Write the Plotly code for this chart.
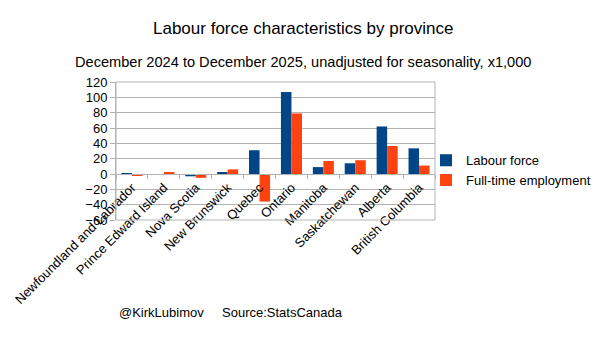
import plotly.graph_objects as go

provinces = ["Newfoundland and Labrador", "Prince Edward Island", "Nova Scotia",
             "New Brunswick", "Quebec", "Ontario", "Manitoba", "Saskatchewan",
             "Alberta", "British Columbia"]
labour_force = [0.5, -1, -3, 1.5, 31, 107, 9, 14, 62, 33.5]
full_time = [-1.5, 2, -5, 6, -36, 79, 17, 18, 36.5, 11]
y_ticks = [-60, -40, -20, 0, 20, 40, 60, 80, 100, 120]

FONT = "Liberation Sans, Arial, sans-serif"
GRID = "#b3b3b3"

fig = go.Figure()
fig.add_trace(go.Bar(x=provinces, y=labour_force, name="Labour force",
                     marker=dict(color="#004586", line=dict(width=0))))
fig.add_trace(go.Bar(x=provinces, y=full_time, name="Full-time employment",
                     marker=dict(color="#ff420e", line=dict(width=0))))

fig.update_layout(
    width=605, height=340,
    margin=dict(l=116, r=169.5, t=81.5, b=120, autoexpand=False),
    paper_bgcolor="white", plot_bgcolor="white",
    font=dict(family=FONT, size=13, color="black"),
    barmode="group", bargap=0.34, bargroupgap=0,
    showlegend=True,
    legend=dict(x=1.0 - 9 / 319.5, xanchor="left", y=1 - (170 - 81.5) / 138.5,
                yanchor="middle", font=dict(size=13), itemwidth=30, tracegroupgap=0,
                bgcolor="rgba(0,0,0,0)"),
    xaxis=dict(anchor="free", position=1/3, tickangle=-45, automargin=False,
               showline=True, linecolor=GRID, linewidth=1,
               ticks="outside", ticklen=4, tickcolor=GRID, tickson="boundaries",
               showgrid=False, tickfont=dict(size=13)),
    yaxis=dict(range=[-60, 120], tickvals=y_ticks, showgrid=True, automargin=False,
               gridcolor=GRID, gridwidth=1, zeroline=False,
               showline=True, linecolor=GRID, ticks="outside", ticklen=5,
               tickcolor=GRID, tickfont=dict(size=13), domain=[0, 1]),
    shapes=[dict(type="rect", xref="paper", yref="paper", x0=0, x1=1, y0=0, y1=1,
                 line=dict(color=GRID, width=1), layer="above")],
    annotations=[
        dict(text="Labour force characteristics by province", xref="paper", yref="paper",
             x=(303 - 116) / 319.5, y=1 + (81.5 - 28) / 138.5, xanchor="center",
             yanchor="middle", showarrow=False, font=dict(size=17)),
        dict(text="December 2024 to December 2025, unadjusted for seasonality, x1,000",
             xref="paper", yref="paper", x=(303 - 116) / 319.5,
             y=1 + (81.5 - 61) / 138.5, xanchor="center", yanchor="middle",
             showarrow=False, font=dict(size=14.6)),
        dict(text="@KirkLubimov", xref="paper", yref="paper", x=(117 - 116) / 319.5,
             y=-(313 - 220) / 138.5, xanchor="left", yanchor="middle",
             showarrow=False, font=dict(size=13)),
        dict(text="Source:StatsCanada", xref="paper", yref="paper", x=(220 - 116) / 319.5,
             y=-(313 - 220) / 138.5, xanchor="left", yanchor="middle",
             showarrow=False, font=dict(size=13)),
    ],
)

fig.write_html("out.html")
